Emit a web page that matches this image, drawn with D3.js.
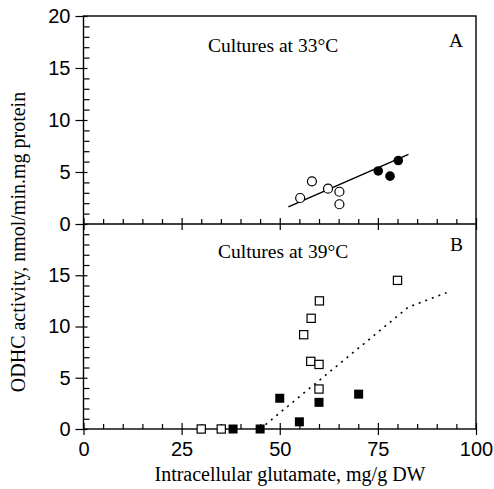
<!DOCTYPE html>
<html>
<head>
<meta charset="utf-8">
<script src="https://cdn.jsdelivr.net/npm/d3@7"></script>
<style>
body { margin: 0; background: #fff; }
svg { display: block; }
</style>
</head>
<body>
<svg id="chart" width="494" height="489"></svg>
<script>
// panel A: cultures at 33°C
const openCircleX = [55.2, 58.2, 62.3, 65.2, 65.2];
const openCircleY = [2.5, 4.1, 3.4, 3.1, 1.9];
const fillCircleX = [75.1, 78.1, 80.2];
const fillCircleY = [5.1, 4.6, 6.1];
const fitLineX = [52.2, 82.8];
const fitLineY = [1.65, 6.7];

// panel B: cultures at 39°C
const openSquareX = [30, 35.1, 80, 60.1, 58, 56.1, 57.9, 60, 60];
const openSquareY = [0, 0, 14.5, 12.5, 10.8, 9.2, 6.6, 6.3, 3.9];
const fillSquareX = [38.1, 45, 50, 55, 60, 70.1];
const fillSquareY = [0, 0, 3.0, 0.7, 2.6, 3.4];
const dotLineX = [45, 82.8, 92.5];
const dotLineY = [0, 11.9, 13.3];

const xMajor = [0, 25, 50, 75, 100];
const yMajorTop = [0, 5, 10, 15, 20];
const yMajorBot = [0, 5, 10, 15];

const svg = d3.select("#chart");

const plot = {left: 83.5, right: 476, top: 16, mid: 224, bottom: 429};

const x = d3.scaleLinear().domain([0, 100]).range([plot.left, plot.right]);
const yTop = d3.scaleLinear().domain([0, 20]).range([plot.mid, plot.top]);
const yBot = d3.scaleLinear().domain([0, 20]).range([plot.bottom, plot.mid]);

const sansFont = "'Liberation Sans', Arial, sans-serif";
const serifFont = "'Liberation Serif', 'Times New Roman', serif";

// frame
svg.append("rect")
	.attr("x", plot.left).attr("y", plot.top)
	.attr("width", plot.right - plot.left).attr("height", plot.bottom - plot.top)
	.attr("fill", "none").attr("stroke", "#000").attr("stroke-width", 1.4);
svg.append("line")
	.attr("x1", plot.left).attr("x2", plot.right)
	.attr("y1", plot.mid).attr("y2", plot.mid)
	.attr("stroke", "#000").attr("stroke-width", 1.4);

const minorX = d3.range(0, 101, 5).filter(v => v % 25 !== 0);
const minorY = d3.range(0, 21, 1).filter(v => v % 5 !== 0);

function xAxisAt(yPos, withLabels) {
	// minor ticks point into the panel above
	svg.append("g")
		.attr("transform", `translate(0,${yPos})`)
		.call(d3.axisTop(x).tickValues(minorX).tickSize(5).tickFormat(""))
		.call(g => g.select(".domain").remove())
		.call(g => g.selectAll("line").attr("stroke", "#000").attr("stroke-width", 1.2));

	const g = svg.append("g")
		.attr("transform", `translate(0,${yPos})`)
		.call(d3.axisBottom(x).tickValues(xMajor).tickSize(6)
			.tickFormat(withLabels ? d3.format("d") : ""));
	g.select(".domain").remove();
	g.selectAll(".tick line").attr("y1", -6).attr("y2", 6)
		.attr("stroke", "#000").attr("stroke-width", 1.2);
	g.selectAll("text")
		.attr("y", 13)
		.attr("font-family", sansFont)
		.attr("font-size", 20)
		.attr("fill", "#000");
}

function yAxisFor(scale, majors) {
	svg.append("g")
		.attr("transform", `translate(${plot.left},0)`)
		.call(d3.axisRight(scale).tickValues(minorY).tickSize(6).tickFormat(""))
		.call(g => g.select(".domain").remove())
		.call(g => g.selectAll("line").attr("stroke", "#000").attr("stroke-width", 1.2));

	const g = svg.append("g")
		.attr("transform", `translate(${plot.left},0)`)
		.call(d3.axisLeft(scale).tickValues(majors).tickSize(8).tickFormat(d3.format("d")));
	g.select(".domain").remove();
	g.selectAll(".tick line").attr("x1", 4).attr("x2", -8)
		.attr("stroke", "#000").attr("stroke-width", 1.2);
	g.selectAll("text")
		.attr("x", -13)
		.attr("font-family", sansFont)
		.attr("font-size", 20)
		.attr("fill", "#000");
}

xAxisAt(plot.mid, false);
xAxisAt(plot.bottom, true);
yAxisFor(yTop, yMajorTop);
yAxisFor(yBot, yMajorBot);

// axis titles
svg.append("text")
	.attr("x", 290).attr("y", 481)
	.attr("text-anchor", "middle")
	.attr("font-family", serifFont).attr("font-size", 20)
	.text("Intracellular glutamate, mg/g DW");

svg.append("text")
	.attr("transform", "translate(25,242) rotate(-90)")
	.attr("text-anchor", "middle")
	.attr("font-family", serifFont).attr("font-size", 20)
	.text("ODHC activity, nmol/min.mg protein");

// panel labels
svg.append("text").attr("x", 208).attr("y", 52)
	.attr("font-family", serifFont).attr("font-size", 19.5)
	.text("Cultures at 33°C");
svg.append("text").attr("x", 449).attr("y", 47)
	.attr("font-family", serifFont).attr("font-size", 19.5)
	.text("A");
svg.append("text").attr("x", 218).attr("y", 258)
	.attr("font-family", serifFont).attr("font-size", 19.5)
	.text("Cultures at 39°C");
svg.append("text").attr("x", 450).attr("y", 251)
	.attr("font-family", serifFont).attr("font-size", 19.5)
	.text("B");

const line = (ys) => d3.line().x(d => x(d[0])).y(d => ys(d[1]));

// panel A regression line
svg.append("path")
	.attr("d", line(yTop)(d3.zip(fitLineX, fitLineY)))
	.attr("fill", "none").attr("stroke", "#000").attr("stroke-width", 1.5);

// panel B dotted line
svg.append("path")
	.attr("d", line(yBot)(d3.zip(dotLineX, dotLineY)))
	.attr("fill", "none").attr("stroke", "#000").attr("stroke-width", 1.6)
	.attr("stroke-dasharray", "2,5");

// circles
svg.append("g").selectAll("circle")
	.data(d3.zip(openCircleX, openCircleY))
	.join("circle")
	.attr("cx", d => x(d[0])).attr("cy", d => yTop(d[1])).attr("r", 4.5)
	.attr("fill", "#fff").attr("stroke", "#000").attr("stroke-width", 1.2);
svg.append("g").selectAll("circle")
	.data(d3.zip(fillCircleX, fillCircleY))
	.join("circle")
	.attr("cx", d => x(d[0])).attr("cy", d => yTop(d[1])).attr("r", 4.8)
	.attr("fill", "#000");

// squares
const sq = 8.2;
svg.append("g").selectAll("rect")
	.data(d3.zip(openSquareX, openSquareY))
	.join("rect")
	.attr("x", d => x(d[0]) - sq / 2).attr("y", d => yBot(d[1]) - sq / 2)
	.attr("width", sq).attr("height", sq)
	.attr("fill", "#fff").attr("stroke", "#000").attr("stroke-width", 1.2);
svg.append("g").selectAll("rect")
	.data(d3.zip(fillSquareX, fillSquareY))
	.join("rect")
	.attr("x", d => x(d[0]) - 4.5).attr("y", d => yBot(d[1]) - 4.5)
	.attr("width", 9).attr("height", 9)
	.attr("fill", "#000");
</script>
</body>
</html>
